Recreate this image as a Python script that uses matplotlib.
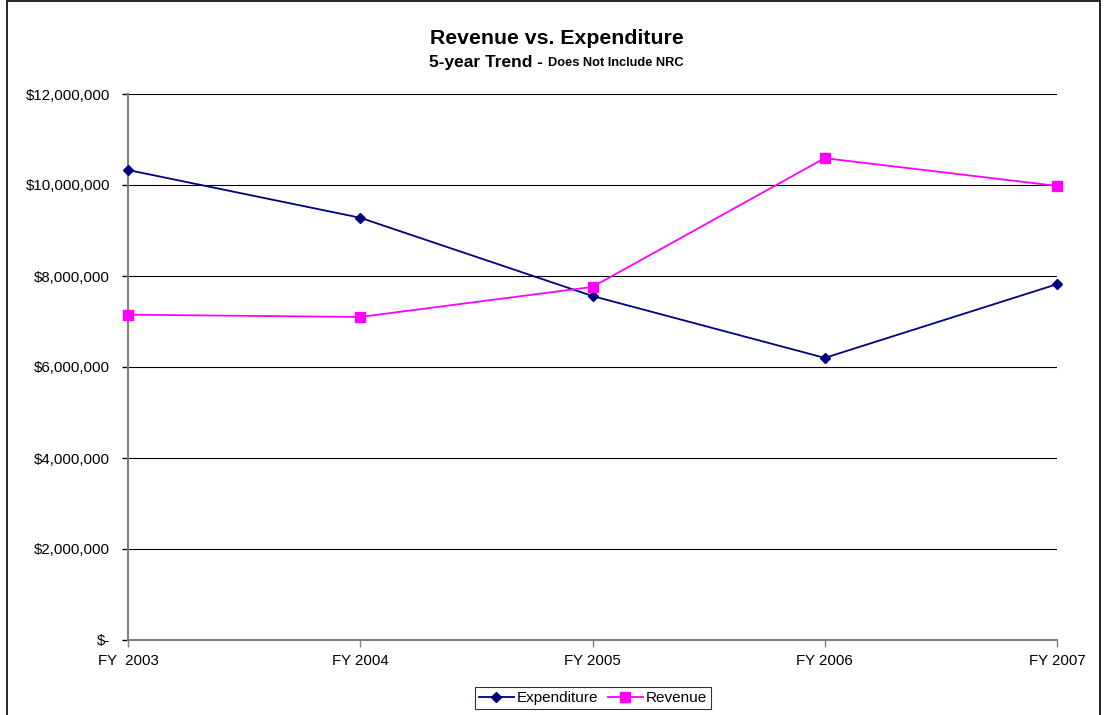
import matplotlib
matplotlib.use("Agg")
import matplotlib.pyplot as plt
from matplotlib.ticker import FuncFormatter
from matplotlib.patches import Rectangle
from matplotlib.offsetbox import TextArea, HPacker, AnchoredOffsetbox

plt.rcParams['font.family'] = ['Liberation Sans', 'DejaVu Sans']

years = ["FY  2003", "FY 2004", "FY 2005", "FY 2006", "FY 2007"]
expenditure = [10330000, 9280000, 7560000, 6200000, 7820000]
revenue = [7150000, 7100000, 7760000, 10590000, 9980000]
yticks = [0, 2000000, 4000000, 6000000, 8000000, 10000000, 12000000]

fig = plt.figure(figsize=(11.04, 7.15), dpi=100)
fig.patches.append(Rectangle((7/1104, -0.01), (1100-7)/1104, 1.01 - 1/715,
                             transform=fig.transFigure, fill=False,
                             edgecolor='black', linewidth=1.2))

ax = fig.add_axes([128/1104, 75/715, (1057-128)/1104, (640-94)/715])
x = list(range(len(years)))
ax.plot(x, expenditure, color='#000080', marker='D', markersize=5.5,
        linewidth=1.3, label='Expenditure', clip_on=False, zorder=3)
ax.plot(x, revenue, color='#FF00FF', marker='s', markersize=6.5,
        linewidth=1.3, label='Revenue', clip_on=False, zorder=3)

ax.set_xlim(0, len(years) - 1)
ax.set_ylim(0, 12000000)
ax.set_yticks(yticks)
ax.yaxis.set_major_formatter(FuncFormatter(
    lambda v, p: "$-" if v == 0 else "${:,.0f}".format(v)))
ax.set_xticks(x)
ax.set_xticklabels(years)
ax.grid(axis='y', color='black', linewidth=0.8)
ax.set_axisbelow(True)
for s in ['top', 'right']:
    ax.spines[s].set_visible(False)
for s in ['left', 'bottom']:
    ax.spines[s].set_color('#808080')
    ax.spines[s].set_linewidth(1.5)
ax.tick_params(axis='y', length=4, width=1, color='black', labelsize=10.8, pad=9)
ax.tick_params(axis='x', length=5, width=1, color='#808080', labelsize=10.8, pad=5)
labels = ax.get_xticklabels()
labels[0].set_horizontalalignment('center')
labels[-1].set_horizontalalignment('center')

fig.text(557/1104, 1 - 38/715, "Revenue vs. Expenditure", ha='center', va='center',
         fontsize=15.3, fontweight='bold')
a1 = TextArea("5-year Trend - ", textprops=dict(fontsize=12.5, fontweight='bold'))
a2 = TextArea("Does Not Include NRC", textprops=dict(fontsize=9.2, fontweight='bold'))
box = HPacker(children=[a1, a2], align='baseline', pad=0, sep=0)
ab = AnchoredOffsetbox(loc='center', child=box, frameon=False,
                       bbox_to_anchor=(556/1104, 1 - 62/715),
                       bbox_transform=fig.transFigure, borderpad=0, pad=0)
fig.add_artist(ab)

leg = fig.legend(loc='center', bbox_to_anchor=(593/1104, 1 - 698/715), ncol=2,
                 fontsize=11, frameon=True, fancybox=False, edgecolor='black',
                 handlelength=2.3, handletextpad=0.2, columnspacing=0.6,
                 borderpad=0.25)
leg.get_frame().set_linewidth(0.8)

fig.savefig("out.png", dpi=100)
